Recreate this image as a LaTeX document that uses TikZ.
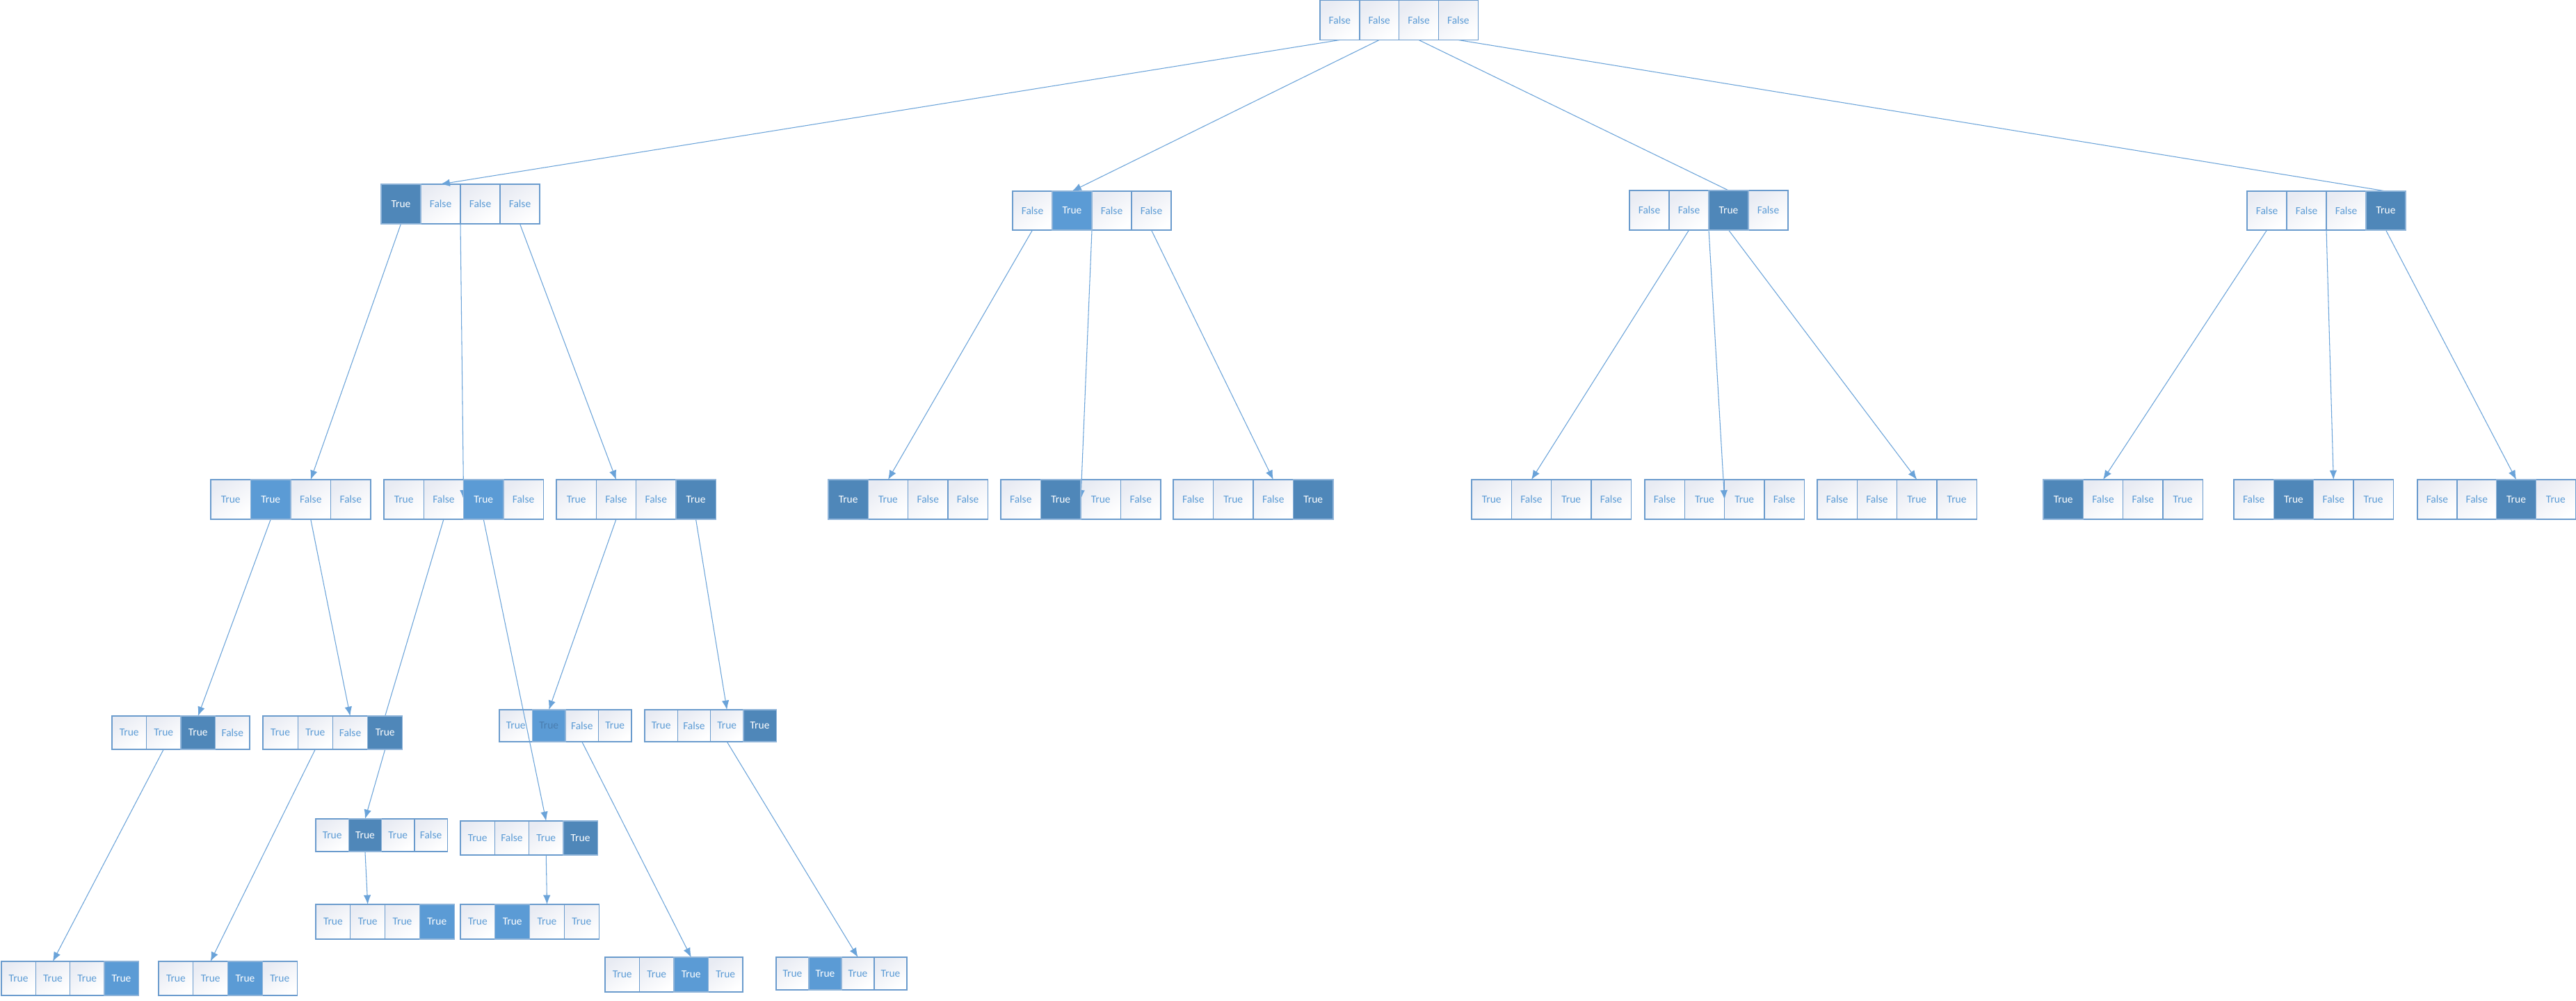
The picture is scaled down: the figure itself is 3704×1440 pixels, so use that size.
\documentclass[tikz,border=0pt]{standalone}
\usepackage{fontspec}
\setmainfont{Carlito}
\usetikzlibrary{arrows.meta}
\definecolor{cdark}{HTML}{4F87B9}
\definecolor{cmed}{HTML}{5B9BD5}
\definecolor{cline}{HTML}{6AA3D9}
\definecolor{cborder}{HTML}{6A9BCD}
\definecolor{cgrad}{HTML}{E8EBF3}
\definecolor{ctxt}{HTML}{5B9BD5}
\definecolor{ctxtdk}{HTML}{4A7DAF}
\pgfdeclarelayer{top}
\pgfsetlayers{main,top}
\def\tagw{w}\def\tagd{d}\def\tagm{m}\def\tagx{x}
\tikzset{
 cellbase/.style={rectangle, inner sep=0pt, outer sep=0pt, line width=0.38pt, font=\fontsize{4.4}{5}\selectfont},
 cellwhite/.style={draw=cborder, top color=cgrad, middle color=white, bottom color=white, shading angle=35, text=ctxt},
 cellfilled/.style={draw=cborder!75!white},
 edge/.style={draw=cline, line width=0.3pt},
 arr/.style={edge, -{Latex[length=3.8pt,width=3pt]}},
}
\newcommand\arrnode[6]{%
 \foreach \st/\lb [count=\ci] in {#6}{%
  \ifx\st\tagw
   \node[cellbase,cellwhite,minimum width={#4*0.01cm},minimum height={#5*0.01cm}] (#1-\ci) at ({#2+(\ci-0.5)*#4},{#3+#5/2}) {\lb};
  \else
   \ifx\st\tagd \def\cf{cdark}\def\ct{white}\fi
   \ifx\st\tagm \def\cf{cmed}\def\ct{white}\fi
   \ifx\st\tagx \def\cf{cmed}\def\ct{ctxtdk}\fi
   \begin{pgfonlayer}{top}
   \node[cellbase,cellfilled,fill=\cf,text=\ct,minimum width={#4*0.01cm},minimum height={#5*0.01cm}] (#1-\ci) at ({#2+(\ci-0.5)*#4},{#3+#5/2}) {\lb};
   \end{pgfonlayer}
  \fi
 }%
}
\begin{document}
\begin{tikzpicture}[x=0.01cm,y=-0.01cm]
\fill[white] (0,0) rectangle (3704,1440);
\useasboundingbox (0,0) rectangle (3704,1440);
% level 0
\arrnode{root}{1898}{0.5}{56.8}{57}{w/False,w/False,w/False,w/False}
% level 1
\arrnode{A}{548}{265}{57}{57}{d/True,w/False,w/False,w/False}
\arrnode{B}{1456}{275}{57}{56}{w/False,m/True,w/False,w/False}
\arrnode{C}{2343}{274}{57}{57}{w/False,w/False,d/True,w/False}
\arrnode{D}{3231}{275}{57}{56}{w/False,w/False,w/False,d/True}
% level 2
\arrnode{A1}{303}{690}{57.5}{57}{w/True,m/True,w/False,w/False}
\arrnode{A2}{552}{690}{57.3}{57}{w/True,w/False,m/True,w/False}
\arrnode{A3}{800}{690}{57.3}{57}{w/True,w/False,w/False,d/True}
\arrnode{B1}{1191}{690}{57.3}{57}{d/True,w/True,w/False,w/False}
\arrnode{B2}{1439}{690}{57.5}{57}{w/False,d/True,w/True,w/False}
\arrnode{B3}{1687}{690}{57.5}{57}{w/False,w/True,w/False,d/True}
\arrnode{C1}{2116}{690}{57.3}{57}{w/True,w/False,w/True,w/False}
\arrnode{C2}{2365}{690}{57.3}{57}{w/False,w/True,w/True,w/False}
\arrnode{C3}{2613}{690}{57.3}{57}{w/False,w/False,w/True,w/True}
\arrnode{D1}{2938}{690}{57.3}{57}{d/True,w/False,w/False,w/True}
\arrnode{D2}{3212}{690}{57.3}{57}{w/False,d/True,w/False,w/True}
\arrnode{D3}{3476}{690}{56.8}{57}{w/False,w/False,d/True,w/True}
% level 3
\arrnode{A1a}{161}{1030}{49.5}{48}{w/True,w/True,d/True,w/False}
\arrnode{A1b}{378}{1030}{50.2}{48}{w/True,w/True,w/False,d/True}
\arrnode{A2a}{718}{1021}{47.5}{46}{w/True,x/True,w/False,w/True}
\arrnode{A3a}{927}{1021}{47.3}{46}{w/True,w/False,w/True,d/True}
% level 4
\arrnode{A1c}{454}{1178}{47.3}{47}{w/True,d/True,w/True,w/False}
\arrnode{A2b}{662}{1181}{49.3}{49}{w/True,w/False,w/True,d/True}
% level 5
\arrnode{A1d}{454}{1301}{49.8}{50}{w/True,w/True,w/True,m/True}
\arrnode{A2c}{662}{1301}{49.8}{50}{w/True,m/True,w/True,w/True}
% bottom
\arrnode{L1}{2}{1383}{49.3}{49}{w/True,w/True,w/True,m/True}
\arrnode{L2}{228}{1383}{49.8}{49}{w/True,w/True,m/True,w/True}
\arrnode{L3}{870}{1377}{49.5}{50}{w/True,w/True,m/True,w/True}
\arrnode{L4}{1116}{1377}{47}{47}{w/True,m/True,w/True,w/True}
% edges
\draw[arr] (root-1.south) -- (A-2.north);
\draw[arr] (root-2.south) -- (B-2.north);
\draw[edge] (root-3.south) -- (C-3.north);
\draw[edge] (root-4.south) -- (D-4.north);
\draw[arr] (A-1.south) -- (A1-3.north);
\draw[arr] (A-2.south east) -- (A2-2.east);
\draw[arr] (A-4.south) -- (A3-2.north);
\draw[arr] (A1-2.south) -- (A1a-3.north);
\draw[arr] (A1-3.south) -- (A1b-3.north);
\draw[edge] (A2-2.south) -- (A1b-4.north);
\draw[arr] (A2-3.south) -- (A2b-3.north);
\draw[arr] (A3-2.south) -- (A2a-2.north);
\draw[arr] (A3-4.south) -- (A3a-3.north);
\draw[arr] (A1a-2.south) -- (L1-2.north);
\draw[arr] (A1b-2.south) -- (L2-2.north);
\draw[arr] (A1b-4.south) -- (A1c-2.north);
\draw[arr] (A1c-2.south) -- (A1d-2.north);
\draw[arr] (A2b-3.south) -- (A2c-3.north);
\draw[arr] (A2a-3.south) -- (L3-3.north);
\draw[arr] (A3a-3.south) -- (L4-3.north);
\draw[arr] (B-1.south) -- (B1-2.north);
\draw[arr] (B-2.south east) -- (B2-2.east);
\draw[arr] (B-4.south) -- (B3-3.north);
\draw[arr] (C-2.south) -- (C1-2.north);
\draw[arr] (C-2.south east) -- (C2-2.east);
\draw[arr] (C-3.south) -- (C3-3.north);
\draw[arr] (D-1.south) -- (D1-2.north);
\draw[arr] (D-2.south east) -- (D2-3.north);
\draw[arr] (D-4.south) -- (D3-3.north);
\end{tikzpicture}
\end{document}
